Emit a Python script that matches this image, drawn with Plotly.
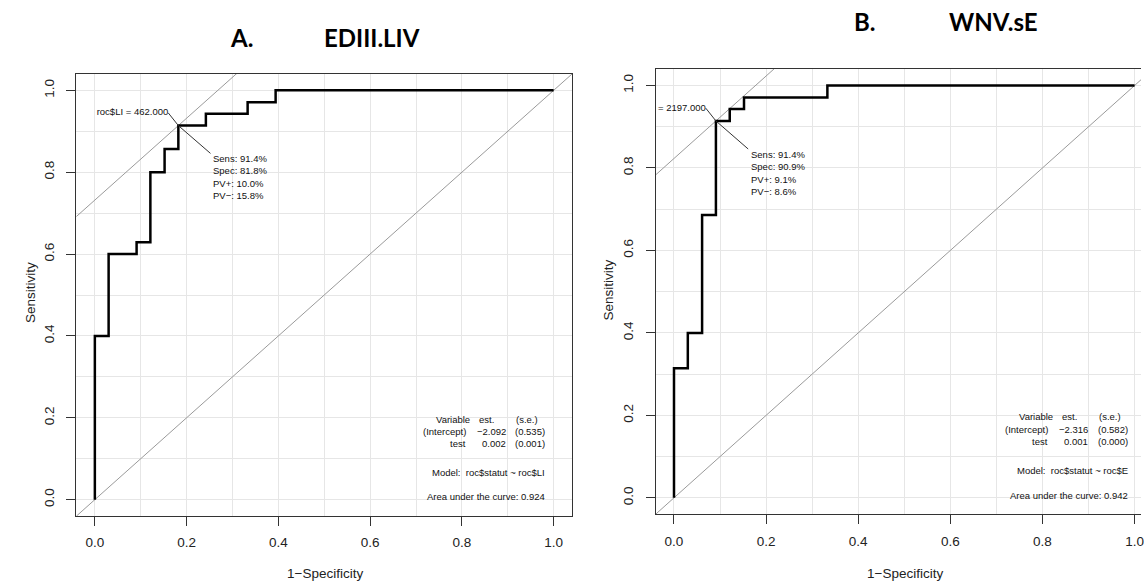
import plotly.graph_objects as go

W, H = 1144, 582

# ---------------- data ----------------
# Panel A: EDIII.LIV  (ROC vertices: 1-specificity, sensitivity)
fpr_a = [0.000, 0.000, 0.030, 0.091, 0.121, 0.152, 0.182, 0.242, 0.333, 0.394, 1.000]
tpr_a = [0.000, 0.400, 0.600, 0.629, 0.800, 0.857, 0.914, 0.943, 0.971, 1.000, 1.000]
opt_a = [0.182, 0.914]
cut_a = "roc$LI = 462.000"
stats_a = ["Sens: 91.4%", "Spec: 81.8%", "PV+: 10.0%", "PV\u2212: 15.8%"]
coef_head = ["Variable", "est.", "(s.e.)"]
coef_rows_a = [["(Intercept)", "\u22122.092", "(0.535)"], ["test", "0.002", "(0.001)"]]
model_a = "Model:\u00a0 roc$statut ~ roc$LI"
auc_a = "Area under the curve: 0.924"
title_a = ["A.", "EDIII.LIV"]

# Panel B: WNV.sE
fpr_b = [0.000, 0.000, 0.030, 0.061, 0.091, 0.121, 0.152, 0.333, 1.000]
tpr_b = [0.000, 0.314, 0.400, 0.686, 0.914, 0.943, 0.971, 1.000, 1.000]
opt_b = [0.091, 0.914]
cut_b = "roc$E = 2197.000"
stats_b = ["Sens: 91.4%", "Spec: 90.9%", "PV+: 9.1%", "PV\u2212: 8.6%"]
coef_rows_b = [["(Intercept)", "\u22122.316", "(0.582)"], ["test", "0.001", "(0.000)"]]
model_b = "Model:\u00a0 roc$statut ~ roc$E"
auc_b = "Area under the curve: 0.942"
title_b = ["B.", "WNV.sE"]

tick_vals = [0.0, 0.2, 0.4, 0.6, 0.8, 1.0]
tick_text = ["0.0", "0.2", "0.4", "0.6", "0.8", "1.0"]
xlab = "1\u2212Specificity"
ylab = "Sensitivity"

# ---------------- styling ----------------
FONT = "Liberation Sans"
AXC = "#333333"
GRID = "#e6e6e6"
GRAYL = "#9a9a9a"
SMALL = 9.5


def px(x):
    return x / W


def py(y):
    return 1 - y / H


fig = go.Figure()
annotations = []


def panel(xa, ya, fpr, tpr, opt, cut, stats, rows, model, auc, right):
    xr, yr = xa, ya
    # reference diagonal
    fig.add_trace(go.Scatter(x=[-0.1, 1.1], y=[-0.1, 1.1], mode="lines",
                             line=dict(color=GRAYL, width=1), xaxis=xr, yaxis=yr,
                             hoverinfo="skip", showlegend=False))
    # tangent line through optimal point
    c = opt[1] - opt[0]
    fig.add_trace(go.Scatter(x=[-0.1, 1.1], y=[-0.1 + c, 1.1 + c], mode="lines",
                             line=dict(color=GRAYL, width=1), xaxis=xr, yaxis=yr,
                             hoverinfo="skip", showlegend=False))
    # ROC curve
    fig.add_trace(go.Scatter(x=fpr, y=tpr, mode="lines", line_shape="hv",
                             line=dict(color="black", width=2.5), xaxis=xr, yaxis=yr,
                             showlegend=False))
    # pointer segments
    fig.add_trace(go.Scatter(x=[opt[0] - 0.022, opt[0], opt[0] + 0.07],
                             y=[opt[1] + 0.031, opt[1], opt[1] - 0.068], mode="lines",
                             line=dict(color=AXC, width=1), xaxis=xr, yaxis=yr,
                             hoverinfo="skip", showlegend=False))
    # cut-off label (clipped at plot edge like the original)
    fig.add_trace(go.Scatter(x=[opt[0] - 0.022], y=[opt[1] + 0.031], mode="text",
                             text=[cut], textposition="middle left",
                             textfont=dict(family=FONT, size=SMALL, color="#111"),
                             cliponaxis=True, xaxis=xr, yaxis=yr,
                             hoverinfo="skip", showlegend=False))
    annotations.append(dict(xref=xr, yref=yr, x=opt[0] + 0.071, y=opt[1] - 0.063,
                            xanchor="left", yanchor="top", align="left",
                            text="<br>".join(stats), showarrow=False,
                            font=dict(family=FONT, size=SMALL, color="#111")))
    # coefficient table
    head_x = [right - 0.1625, right - 0.110, right - 0.015]
    col_x = [right - 0.172, right - 0.0855, right]
    row_y = [0.196, 0.166, 0.136]
    for j, t in enumerate(coef_head):
        annotations.append(dict(xref=xr, yref=yr, x=head_x[j], y=row_y[0], xanchor="right",
                                yanchor="middle", text=t, showarrow=False,
                                font=dict(family=FONT, size=SMALL, color="#111")))
    for i, r in enumerate(rows):
        for j, t in enumerate(r):
            annotations.append(dict(xref=xr, yref=yr, x=col_x[j], y=row_y[i + 1],
                                    xanchor="right", yanchor="middle", text=t,
                                    showarrow=False,
                                    font=dict(family=FONT, size=SMALL, color="#111")))
    annotations.append(dict(xref=xr, yref=yr, x=right, y=0.067, xanchor="right",
                            yanchor="middle", text=model, showarrow=False,
                            font=dict(family=FONT, size=SMALL, color="#111")))
    annotations.append(dict(xref=xr, yref=yr, x=right, y=0.0065, xanchor="right",
                            yanchor="middle", text=auc, showarrow=False,
                            font=dict(family=FONT, size=SMALL, color="#111")))


panel("x", "y", fpr_a, tpr_a, opt_a, cut_a, stats_a, coef_rows_a, model_a, auc_a, 0.985)
panel("x2", "y2", fpr_b, tpr_b, opt_b, cut_b, stats_b, coef_rows_b, model_b, auc_b, 0.989)


def axis(domain, rng, anchor, mirror, angle=0, standoff=0):
    return dict(domain=domain, range=rng, anchor=anchor, showline=True, linecolor=AXC,
                linewidth=1, mirror=mirror, ticks="outside", ticklen=9, tickwidth=1,
                tickcolor=AXC, tickvals=tick_vals, ticktext=tick_text, tickangle=angle,
                ticklabelstandoff=standoff, ticklabeloverflow="allow",
                tickfont=dict(family=FONT, size=13.5, color="#222"),
                showgrid=True, gridcolor=GRID, gridwidth=1, zeroline=False,
                minor=dict(tick0=0, dtick=0.1, showgrid=True, gridcolor=GRID, gridwidth=1,
                           ticks=""),
                fixedrange=True)


# panel geometry (pixels)
A_l, A_r, A_t, A_b = 76.7, 573.5, 74, 516
B_l, B_t, B_b = 657.3, 69, 514.3
B_xmax = -0.04 + (W - B_l) / 461.8

fig.update_layout(
    width=W, height=H, margin=dict(l=0, r=0, t=0, b=0),
    paper_bgcolor="white", plot_bgcolor="white", showlegend=False,
    xaxis=axis([px(A_l), px(A_r)], [-0.04, 1.04], "y", True, 0, 5),
    yaxis=axis([py(A_b), py(A_t)], [-0.04, 1.04], "x", True, -90, 7),
    xaxis2=axis([px(B_l), 1.0], [-0.04, B_xmax], "y2", True, 0, 5),
    yaxis2=axis([py(B_b), py(B_t)], [-0.04, 1.04], "x2", False, -90, 7),
)

# titles and axis labels
tfont = dict(family="Lato", size=24, color="black")
annotations += [
    dict(xref="paper", yref="paper", x=px(242.5), y=py(37), text="<b>%s</b>" % title_a[0],
         showarrow=False, xanchor="center", yanchor="middle", font=tfont),
    dict(xref="paper", yref="paper", x=px(373), y=py(37), text="<b>%s</b>" % title_a[1],
         showarrow=False, xanchor="center", yanchor="middle", font=tfont),
    dict(xref="paper", yref="paper", x=px(867), y=py(22), text="<b>%s</b>" % title_b[0],
         showarrow=False, xanchor="center", yanchor="middle", font=tfont),
    dict(xref="paper", yref="paper", x=px(996), y=py(22), text="<b>%s</b>" % title_b[1],
         showarrow=False, xanchor="center", yanchor="middle", font=tfont),
]
lfont = dict(family=FONT, size=13.5, color="#222")
annotations += [
    dict(xref="paper", yref="paper", x=px(30), y=py(292), text=ylab, textangle=-90,
         showarrow=False, xanchor="center", yanchor="middle", font=lfont),
    dict(xref="paper", yref="paper", x=px(610), y=py(290), text=ylab, textangle=-90,
         showarrow=False, xanchor="center", yanchor="middle", font=lfont),
    dict(xref="paper", yref="paper", x=px(325.5), y=py(573), text=xlab,
         showarrow=False, xanchor="center", yanchor="middle", font=lfont),
    dict(xref="paper", yref="paper", x=px(907), y=py(573), text=xlab,
         showarrow=False, xanchor="center", yanchor="middle", font=lfont),
]
fig.update_layout(annotations=annotations)

fig.write_html("out.html", config={"displayModeBar": False},
               post_script="document.body.style.margin='0';document.body.style.padding='0';")
